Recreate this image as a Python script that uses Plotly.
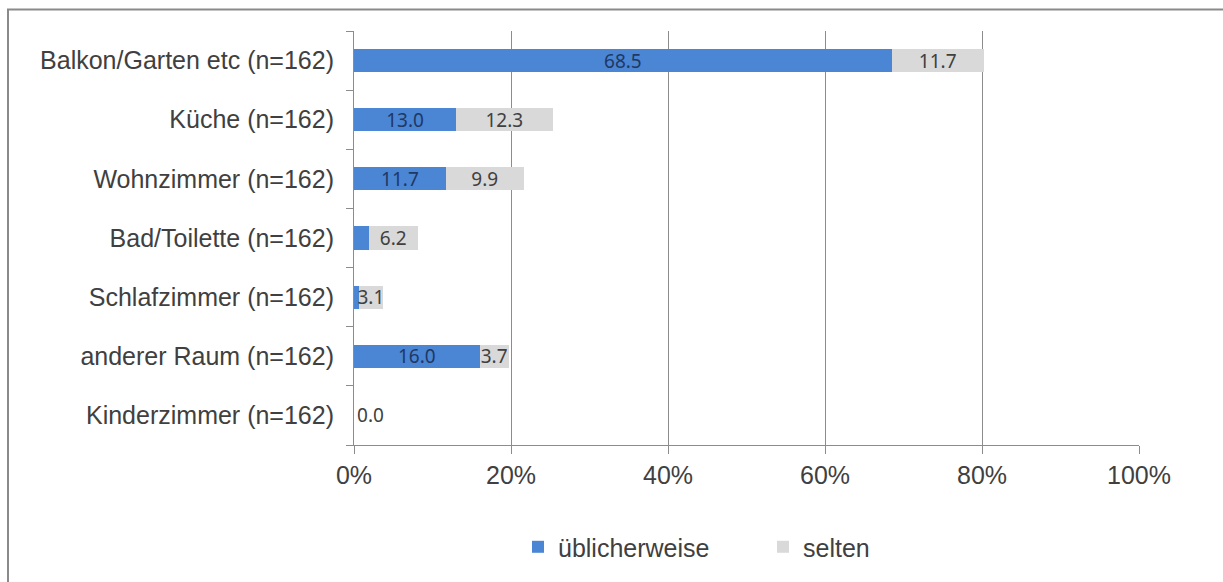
import plotly.graph_objects as go

# Rooms (top to bottom as displayed)
rooms = [
    "Balkon/Garten etc (n=162)",
    "Küche (n=162)",
    "Wohnzimmer (n=162)",
    "Bad/Toilette (n=162)",
    "Schlafzimmer (n=162)",
    "anderer Raum (n=162)",
    "Kinderzimmer (n=162)",
]
usually = [68.5, 13.0, 11.7, 1.9, 0.6, 16.0, 0.0]
rarely = [11.7, 12.3, 9.9, 6.2, 3.1, 3.7, 0.0]
# labels on the blue bars (very short bars carry no label)
usually_labels = ["68.5", "13.0", "11.7", "", "", "16.0", ""]
rarely_labels = [f"{v:.1f}" for v in rarely]
x_ticks = [0, 20, 40, 60, 80, 100]

BLUE = "#4A86D4"
GREY = "#D9D9D9"
AXIS_GREY = "#8C8C8C"

W, H = 1223, 582
L, R, T, B = 354, 84, 31, 125

fig = go.Figure()
fig.add_trace(go.Bar(
    y=rooms, x=usually, orientation="h", name="üblicherweise",
    marker=dict(color=BLUE, line=dict(width=0)),
    text=usually_labels, textposition="inside", insidetextanchor="middle",
    textangle=0, constraintext="none",
    textfont=dict(family="Noto Sans", size=19, color="#1F3864"),
    hoverinfo="x+y",
))
fig.add_trace(go.Bar(
    y=rooms, x=rarely, orientation="h", name="selten",
    marker=dict(color=GREY, line=dict(width=0)),
    text=rarely_labels,
    textposition=["inside" if v > 0 else "outside" for v in rarely],
    insidetextanchor="middle", textangle=0, constraintext="none",
    cliponaxis=False,
    textfont=dict(family="Noto Sans", size=19, color="#404040"),
    hoverinfo="x+y",
))

# outer chart frame
px2x = lambda px: (px - L) / (W - L - R)
px2y = lambda py: (H - B - py) / (H - T - B)
fig.add_shape(type="rect", xref="paper", yref="paper",
              x0=px2x(8), x1=px2x(1240), y0=px2y(600), y1=px2y(9),
              line=dict(color="#8A8A8A", width=2), layer="below")

fig.update_layout(
    width=W, height=H,
    margin=dict(l=L, r=R, t=T, b=B, pad=0),
    barmode="stack", bargap=0.61,
    plot_bgcolor="white", paper_bgcolor="white",
    font=dict(family="Liberation Sans", size=25, color="#404040"),
    showlegend=True,
    legend=dict(orientation="h", x=px2x(518), xanchor="left", y=px2y(562), yanchor="middle",
                font=dict(family="Liberation Sans", size=25, color="#404040"),
                itemwidth=30, traceorder="normal",
                entrywidth=200, entrywidthmode="pixels"),
)
fig.update_xaxes(
    range=[0, 100], tickvals=x_ticks, ticktext=[f"{v}%" for v in x_ticks],
    showgrid=True, gridcolor=AXIS_GREY, gridwidth=1,
    showline=True, linecolor=AXIS_GREY, linewidth=1,
    ticks="outside", ticklen=8, tickcolor=AXIS_GREY, zeroline=False,
    fixedrange=True,
)
fig.update_yaxes(
    categoryorder="array", categoryarray=rooms[::-1], autorange=False,
    range=[-0.5, len(rooms) - 0.5],
    showline=True, linecolor=AXIS_GREY, linewidth=1,
    ticks="outside", ticklen=7, tickcolor=AXIS_GREY, tickson="boundaries",
    showgrid=False, zeroline=False, ticklabelstandoff=14,
    fixedrange=True,
)

fig.write_html("out.html")
